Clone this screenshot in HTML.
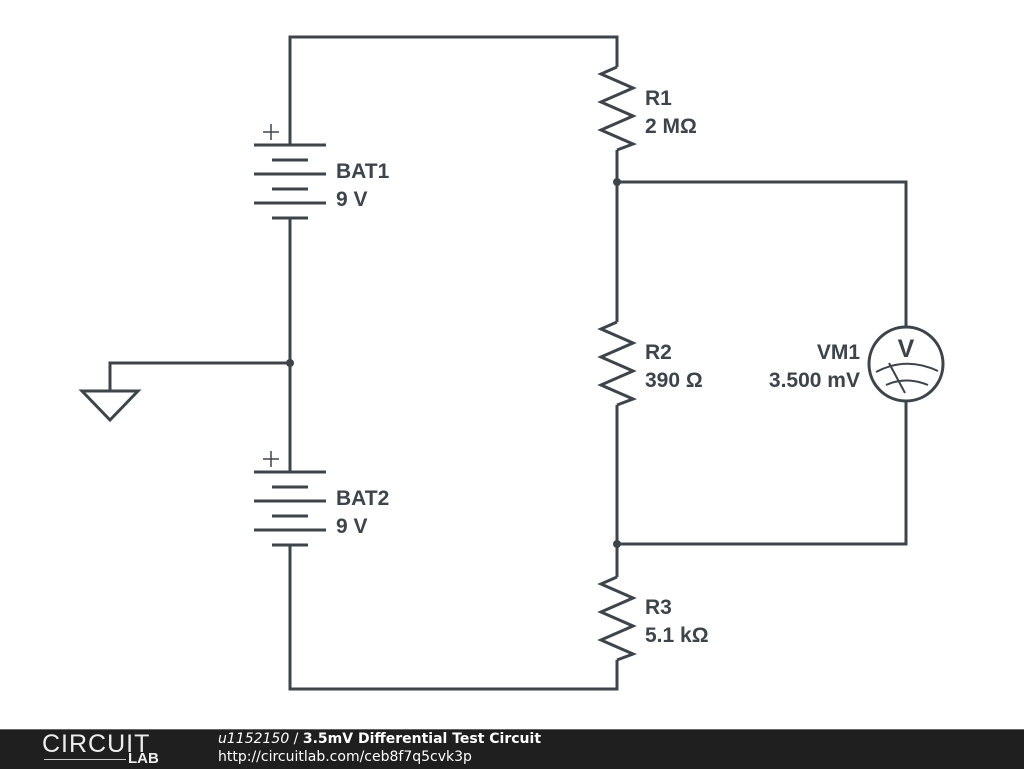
<!DOCTYPE html>
<html><head><style>
body{margin:0;width:1024px;height:768px;background:#fff;overflow:hidden;position:relative;font-family:"Liberation Sans",sans-serif}
svg{position:absolute;left:0;top:0}
.lbl{font-family:"Liberation Sans",sans-serif;font-weight:bold;font-size:21px;fill:#3d444a}
#foot{position:absolute;left:0;top:729px;width:1024px;height:39px;background:#1f1f1f;border-top:1px solid #666}
</style></head><body>
<svg width="1024" height="768" viewBox="0 0 1024 768">
<g stroke="#3d444a" stroke-width="3" fill="none" stroke-linecap="butt">
<polyline points="290,145 290,37 617,37 617,67"/>
<line x1="290" y1="218" x2="290" y2="472"/>
<polyline points="290,545 290,689 617,689 617,660"/>
<line x1="617" y1="150" x2="617" y2="322"/>
<line x1="617" y1="405" x2="617" y2="577"/>
<polyline points="617,182 906,182 906,327"/>
<polyline points="617,544 906,544 906,401"/>
<polyline points="290,363 110,363 110,391"/>
<polygon points="82,391 138,391 110,420" stroke-linejoin="miter"/>
<line x1="254" y1="145" x2="326" y2="145"/>
<line x1="272" y1="160" x2="308" y2="160"/>
<line x1="254" y1="174" x2="326" y2="174"/>
<line x1="272" y1="189" x2="308" y2="189"/>
<line x1="254" y1="203" x2="326" y2="203"/>
<line x1="272" y1="218" x2="308" y2="218"/>
<line x1="263" y1="132" x2="279" y2="132" stroke-width="1.5"/>
<line x1="271" y1="124" x2="271" y2="140" stroke-width="1.5"/>
<g transform="translate(0,327)">
<line x1="254" y1="145" x2="326" y2="145"/>
<line x1="272" y1="160" x2="308" y2="160"/>
<line x1="254" y1="174" x2="326" y2="174"/>
<line x1="272" y1="189" x2="308" y2="189"/>
<line x1="254" y1="203" x2="326" y2="203"/>
<line x1="272" y1="218" x2="308" y2="218"/>
<line x1="263" y1="132" x2="279" y2="132" stroke-width="1.5"/>
<line x1="271" y1="124" x2="271" y2="140" stroke-width="1.5"/>
</g>
<polyline points="617,67 601,74 633,88 601,102 633,116 601,130 633,144 617,150"/>
<polyline transform="translate(0,255)" points="617,67 601,74 633,88 601,102 633,116 601,130 633,144 617,150"/>
<polyline transform="translate(0,510)" points="617,67 601,74 633,88 601,102 633,116 601,130 633,144 617,150"/>
<circle cx="906" cy="364" r="37"/>
<path d="M876 372 Q906 356 938 371" stroke-width="2"/>
<path d="M886 385 Q906 376 928 385" stroke-width="2"/>
<line x1="889" y1="363" x2="905" y2="393" stroke-width="2"/>
</g>
<g fill="#3d444a">
<circle cx="617" cy="182" r="4"/>
<circle cx="617" cy="544" r="4"/>
<circle cx="290" cy="363" r="4"/>
</g>
<text x="906" y="357" text-anchor="middle" class="lbl" style="font-size:25px">V</text>
<text x="336" y="178" class="lbl">BAT1</text>
<text x="336" y="206" class="lbl">9 V</text>
<text x="336" y="505" class="lbl">BAT2</text>
<text x="336" y="533" class="lbl">9 V</text>
<text x="645" y="105" class="lbl">R1</text>
<text x="645" y="133" class="lbl">2 MΩ</text>
<text x="645" y="359" class="lbl">R2</text>
<text x="645" y="387" class="lbl">390 Ω</text>
<text x="645" y="614" class="lbl">R3</text>
<text x="645" y="642" class="lbl">5.1 kΩ</text>
<text x="860" y="359" text-anchor="end" class="lbl">VM1</text>
<text x="860" y="387" text-anchor="end" class="lbl">3.500 mV</text>
</svg>
<div id="foot">
<div style="position:absolute;left:42px;top:0px;color:#eee;font-size:25px;letter-spacing:1px;font-weight:300">CIRCUIT</div>
<div style="position:absolute;left:128px;top:20px;color:#eee;font-size:15px;font-weight:bold">LAB</div>
<div style="position:absolute;left:44px;top:29px;width:82px;height:1px;background:#ccc"></div>
<div style="position:absolute;left:218px;top:1px;color:#fff;font-family:'DejaVu Sans',sans-serif;font-size:14px"><i>u1152150</i> / <b>3.5mV Differential Test Circuit</b></div>
<div style="position:absolute;left:218px;top:19px;color:#fff;font-family:'DejaVu Sans',sans-serif;font-size:14px">http://circuitlab.com/ceb8f7q5cvk3p</div>
</div>
</body></html>
